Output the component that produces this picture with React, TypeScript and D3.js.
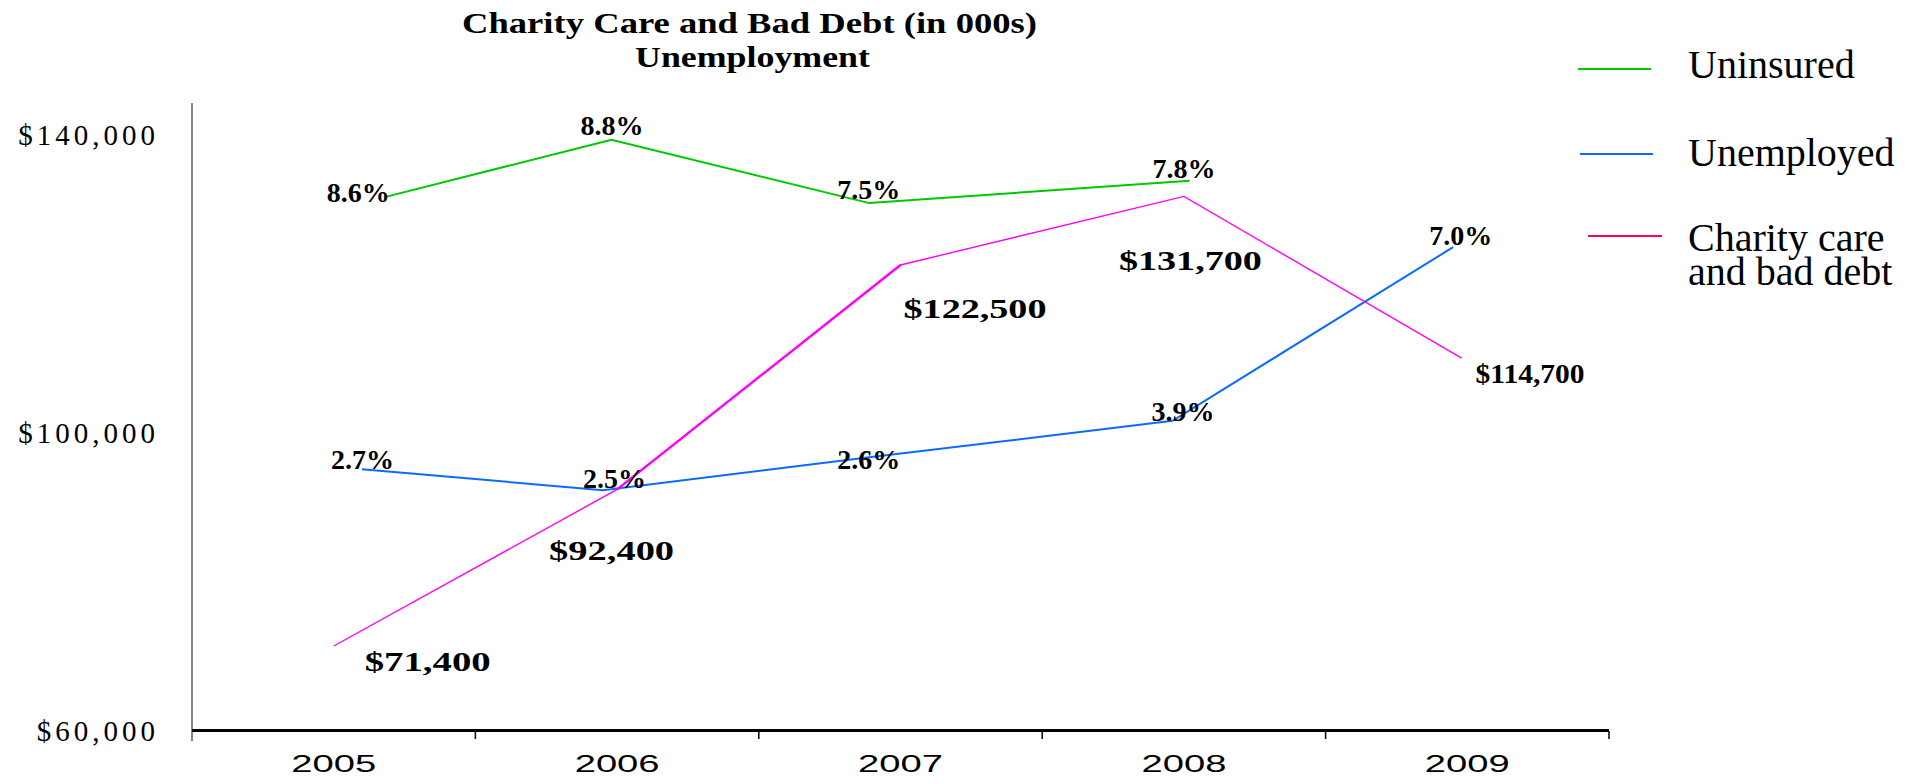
import React from "react";
import * as d3 from "d3";

// ---- data ----
const years = [2005, 2006, 2007, 2008, 2009];
const yTicks = [60000, 100000, 140000];

const uninsuredX = [2005.18, 2005.98, 2006.89, 2008.02];
const uninsuredY = [131600, 139300, 130800, 133800];
const uninsuredLabels = ["8.6%", "8.8%", "7.5%", "7.8%"];

const unemployedX = [2005.1, 2005.95, 2006.89, 2007.96, 2008.95];
const unemployedY = [95100, 92300, 96700, 101600, 124900];
const unemployedLabels = ["2.7%", "2.5%", "2.6%", "3.9%", "7.0%"];

const charityX = [2005, 2006, 2007, 2008, 2008.98];
const charityY = [71400, 92400, 122500, 131700, 110000];
const charityLabels = ["$71,400", "$92,400", "$122,500", "$131,700", "$114,700"];

const legendItems = ["Uninsured", "Unemployed", "Charity care|and bad debt"];

// ---- layout / style ----
const W = 1916;
const H = 784;
const GREEN = "#00c800";
const BLUE = "#0a6cff";
const MAGENTA = "#ff00ff";
const LEGEND_PINK = "#ff0066";
const SERIF = "'Liberation Serif', 'Times New Roman', serif";
const SANS = "'Liberation Sans', Arial, sans-serif";

// label offsets (px) relative to their points: [dx, dy, textLength|null]
const uninsuredLabelPos: [number, number, number | null][] = [
  [-58, 5, null], [-31, -5, null], [-32, -4, null], [-37, -3, null],
];
const unemployedLabelPos: [number, number, number | null][] = [
  [-31, 0, null], [-20, -2, null], [-32, 12, null], [-21, 0, null], [-24, -2, null],
];
const charityLabelPos: [number, number, number | null][] = [
  [31, 25, 126], [-68, 71, 125], [3, 53, 143], [-65, 74, 143], [14, 25, 109],
];

export default function App() {
  const x = d3.scaleLinear().domain([2004.5, 2009.5]).range([192, 1609]);
  const y = d3.scaleLinear().domain([60000, 140000]).range([731, 134.5]);

  const line = d3
    .line<[number, number]>()
    .x((d) => x(d[0]))
    .y((d) => y(d[1]));

  const zip = (xs: number[], ys: number[]) => xs.map((v, i) => [v, ys[i]] as [number, number]);
  const greenPts = zip(uninsuredX, uninsuredY);
  const bluePts = zip(unemployedX, unemployedY);
  const pinkPts = zip(charityX, charityY);

  const tickPositions = d3.range(years.length + 1).map((i) => years[0] - 0.5 + i);

  const renderLabels = (
    pts: [number, number][],
    labels: string[],
    pos: [number, number, number | null][]
  ) =>
    pts.map((p, i) => {
      const [dx, dy, tl] = pos[i];
      const props: any = {};
      if (tl) {
        props.textLength = tl;
        props.lengthAdjust = "spacingAndGlyphs";
      }
      return (
        <text
          key={labels[i]}
          x={x(p[0]) + dx}
          y={y(p[1]) + dy}
          fontFamily={SERIF}
          fontWeight="bold"
          fontSize={28}
          fill="#000"
          {...props}
        >
          {labels[i]}
        </text>
      );
    });

  const legendColors = [GREEN, BLUE, LEGEND_PINK];
  const legendLineX = [[1578, 1651], [1580, 1653], [1588, 1662]];
  const legendLineY = [69, 154, 236];
  const legendTextY = [78, 166, 251];

  return (
    <svg
      width={W}
      height={H}
      style={{ position: "absolute", left: 0, top: 0, display: "block", background: "#fff" }}
    >
      <rect x={0} y={0} width={W} height={H} fill="#fff" />
      {/* title */}
      <text x={462} y={33} fontFamily={SERIF} fontWeight="bold" fontSize={29}
        textLength={575} lengthAdjust="spacingAndGlyphs">
        Charity Care and Bad Debt (in 000s)
      </text>
      <text x={635} y={67} fontFamily={SERIF} fontWeight="bold" fontSize={29}
        textLength={235} lengthAdjust="spacingAndGlyphs">
        Unemployment
      </text>

      {/* y axis */}
      <line x1={192} x2={192} y1={103} y2={741} stroke="#665a52" strokeWidth={1.5} />
      {yTicks.map((t) => (
        <text key={t} x={159} y={y(t) + 10} textAnchor="end" fontFamily={SERIF}
          fontSize={29} letterSpacing={4} fill="#000">
          {d3.format("$,")(t)}
        </text>
      ))}

      {/* x axis */}
      <line x1={192} x2={1609} y1={730.5} y2={730.5} stroke="#000" strokeWidth={3} />
      {tickPositions.slice(1).map((t) => (
        <line key={t} x1={x(t)} x2={x(t)} y1={731} y2={739} stroke="#000" strokeWidth={1.5} />
      ))}
      {years.map((yr) => (
        <text key={yr} transform={`translate(${x(yr)},772) scale(1.66,1)`} textAnchor="middle"
          fontFamily={SANS} fontSize={23} fill="#000">
          {yr}
        </text>
      ))}

      {/* series */}
      <path d={line(greenPts) || ""} fill="none" stroke={GREEN} strokeWidth={2} />
      <path d={line(bluePts) || ""} fill="none" stroke={BLUE} strokeWidth={2} />
      <path d={line(pinkPts) || ""} fill="none" stroke={MAGENTA} strokeWidth={1.4} />
      <path d={line(pinkPts.slice(1, 3)) || ""} fill="none" stroke={MAGENTA} strokeWidth={2.4} />

      {renderLabels(greenPts, uninsuredLabels, uninsuredLabelPos)}
      {renderLabels(bluePts, unemployedLabels, unemployedLabelPos)}
      {renderLabels(pinkPts, charityLabels, charityLabelPos)}

      {/* legend */}
      {legendItems.map((item, i) => (
        <g key={item}>
          <line x1={legendLineX[i][0]} x2={legendLineX[i][1]} y1={legendLineY[i]} y2={legendLineY[i]}
            stroke={legendColors[i]} strokeWidth={2} />
          <text x={1688} y={legendTextY[i]} fontFamily={SERIF} fontSize={40} fill="#000">
            {item.split("|").map((part, j) => (
              <tspan key={j} x={1688} dy={j === 0 ? 0 : 34}>{part}</tspan>
            ))}
          </text>
        </g>
      ))}
    </svg>
  );
}
